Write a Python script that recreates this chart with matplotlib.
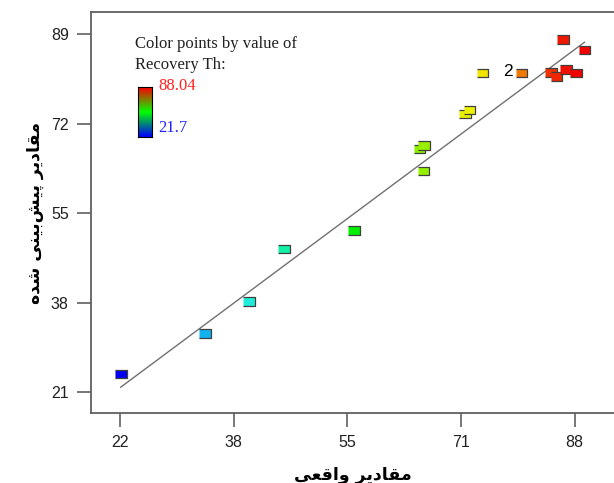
import numpy as np
import matplotlib
matplotlib.use("Agg")
import matplotlib.pyplot as plt
from matplotlib.colors import LinearSegmentedColormap

# Recovery Th: actual vs predicted values
actual = [21.8, 34.1, 40.5, 45.6, 55.8, 66.0, 65.4, 66.1, 72.1, 72.7,
          74.6, 80.3, 86.4, 89.5, 84.6, 85.4, 86.8, 88.3]
predicted = [24.4, 32.1, 38.2, 48.2, 51.7, 63.0, 67.2, 67.9, 73.8, 74.6,
             81.6, 81.6, 88.0, 86.0, 81.7, 81.0, 82.3, 81.6]
fit_x = [21.8, 89.5]
fit_y = [21.9, 87.5]
r_min, r_max = 21.7, 88.04

x_ticks = np.linspace(r_min, r_max, 5)
y_ticks = [21, 38, 55, 72, 89]

# Persian labels, shaped by hand (presentation forms, visual order)
xlabel = "\ufbfd\ufecc\ufed7\ufe8d\ufeed \ufeae\ufbfe\ufea9\ufe8e\ufed8\ufee3"
ylabel = ("\ufee9\ufeaa\ufeb7 \ufbfd\ufee8\ufbff\ufe91\ufeb6\ufbff\ufb58 "
          "\ufeae\ufbfe\ufea9\ufe8e\ufed8\ufee3")

point_cmap = LinearSegmentedColormap.from_list("recovery", [
    (0.0, "#0000f0"), (0.19, "#10b8f0"), (0.29, "#20f0d8"), (0.37, "#10f0a0"),
    (0.51, "#00ee00"), (0.67, "#98f000"), (0.77, "#f0f000"), (0.81, "#f0e000"),
    (0.88, "#f08000"), (0.95, "#f03000"), (1.0, "#f00000")])
bar_cmap = LinearSegmentedColormap.from_list("bar", ["#0000ff", "#00ff00", "#ff0000"])

fig = plt.figure(figsize=(6.14, 4.83), dpi=100)
ax = fig.add_axes([91 / 614, 70 / 483, 1 - 91 / 614, 401 / 483])

ax.plot(fit_x, fit_y, color="#707070", lw=1, zorder=1)

rect = [(-1, -0.72), (1, -0.72), (1, 0.72), (-1, 0.72)]
ax.scatter(actual, predicted, c=actual, cmap=point_cmap, vmin=r_min, vmax=r_max,
           marker=rect, s=72, edgecolors="#404040", linewidths=0.9, zorder=3)
ax.annotate("2", (actual[11], predicted[11]), xytext=(-6.5, 1), textcoords="offset points",
            ha="right", va="center", fontsize=12.5, family="Liberation Sans")

ax.set_xlim(17.47, 93.8)
ax.set_ylim(17.0, 93.24)
ax.set_xticks(x_ticks)
ax.set_xticklabels([f"{v:.0f}" for v in x_ticks])
ax.set_yticks(y_ticks)
ax.set_yticklabels([str(v) for v in y_ticks])
for s in ["left", "bottom", "top"]:
    ax.spines[s].set_color("#606060")
    ax.spines[s].set_linewidth(1.3)
ax.spines["right"].set_visible(False)
ax.tick_params(direction="out", length=10, width=1.2, color="#606060", pad=6,
               labelsize=11.5, labelcolor="#202020")
for lab in ax.get_xticklabels() + ax.get_yticklabels():
    lab.set_family("Liberation Sans")

ax.set_xlabel(xlabel, family="DejaVu Sans", fontweight="bold", fontsize=12.5, labelpad=11)
ax.set_ylabel(ylabel, family="DejaVu Sans", fontweight="bold", fontsize=12.5, labelpad=5)

# colour key
fig.text(135 / 614, 1 - 44 / 483, "Color points by value of", family="Liberation Serif",
         fontsize=12, va="center", color="#202020")
fig.text(135 / 614, 1 - 65 / 483, "Recovery Th:", family="Liberation Serif",
         fontsize=12, va="center", color="#202020")
cax = fig.add_axes([138 / 614, 1 - 137 / 483, 14 / 614, 50 / 483])
cax.imshow(np.linspace(0, 1, 100)[::-1].reshape(-1, 1), cmap=bar_cmap, aspect="auto")
cax.set_xticks([])
cax.set_yticks([])
for s in cax.spines.values():
    s.set_linewidth(0.8)
fig.text(158 / 614, 1 - 86 / 483, f"{r_max:.2f}", family="Liberation Serif",
         fontsize=12, va="center", color="#ff2020")
fig.text(158 / 614, 1 - 128 / 483, f"{r_min}", family="Liberation Serif",
         fontsize=12, va="center", color="#2020ff")

fig.savefig("out.png", dpi=100)
